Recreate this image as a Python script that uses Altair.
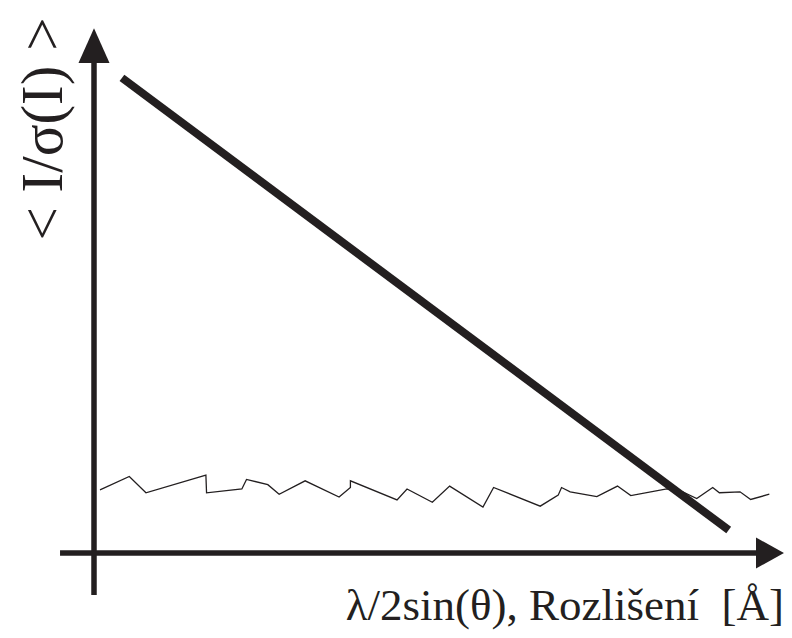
import altair as alt
import pandas as pd

# Thin noisy series: mean I/sigma(I) of noise level vs resolution (arbitrary units)
noise_x = [0.9, 5.3, 7.8, 16.8, 16.9, 22.2, 22.9, 26.1, 27.8, 31.7, 36.8, 38.5, 38.5,
           45.5, 47.0, 50.8, 53.4, 58.4, 60.0, 67.0, 69.7, 70.2, 71.5, 75.5, 78.6,
           80.6, 86.0, 88.4, 90.5, 92.9, 93.9, 97.0, 98.6, 101.4]
noise_y = [13.2, 16.0, 12.6, 16.3, 12.6, 13.4, 15.4, 14.3, 12.3, 15.1, 11.7, 13.7, 15.1,
           11.1, 13.4, 10.6, 14.0, 9.6, 13.7, 9.8, 12.1, 13.7, 12.8, 11.8, 14.0,
           12.0, 13.4, 12.8, 11.4, 13.7, 12.6, 12.8, 11.2, 12.3]

# Thick trend line
trend_x = [4.2, 95.3]
trend_y = [99.4, 4.8]

# Axis lines (with arrows)
yaxis_x = [0, 0]
yaxis_y = [-8.8, 103.0]
xaxis_x = [-5.1, 100.0]
xaxis_y = [0, 0]
yarrow_x = [-2.33, 0, 2.33]
yarrow_y = [102.5, 109.8, 102.5]
yarrow_base = 102.5
xarrow_y = [-3.24, 0, 3.24]
xarrow_x = [99.4, 103.6, 99.4]
xarrow_base = 99.4

x_title = "λ/2sin(θ), Rozlišení\u00a0 [Å]"
y_title = "< I/σ(I) >"

ink = "#231f20"
xs = alt.Scale(domain=[0, 100], range=[86, 752], nice=False, zero=False)
ys = alt.Scale(domain=[0, 100], range=[545, 67], nice=False, zero=False)

noise = pd.DataFrame({"x": noise_x, "y": noise_y, "i": list(range(len(noise_x)))})
trend = pd.DataFrame({"x": trend_x, "y": trend_y})
yax = pd.DataFrame({"x": yaxis_x, "y": yaxis_y, "i": [0, 1]})
xax = pd.DataFrame({"x": xaxis_x, "y": xaxis_y, "i": [0, 1]})
yarr = pd.DataFrame({"x": yarrow_x, "y": yarrow_y, "y2": [yarrow_base] * 3})
xarr = pd.DataFrame({"x": xarrow_x, "y": xarrow_y, "x2": [xarrow_base] * 3})

X = alt.X("x:Q", scale=xs, axis=None)
Y = alt.Y("y:Q", scale=ys, axis=None)

noise_line = alt.Chart(noise).mark_line(color=ink, strokeWidth=1.3).encode(
    x=X, y=Y, order="i:Q")
trend_line = alt.Chart(trend).mark_line(color=ink, strokeWidth=8, strokeCap="butt").encode(
    x=X, y=Y)
yaxis_line = alt.Chart(yax).mark_line(color=ink, strokeWidth=5.5, strokeCap="butt").encode(
    x=X, y=Y, order="i:Q")
xaxis_line = alt.Chart(xax).mark_line(color=ink, strokeWidth=5.5, strokeCap="butt").encode(
    x=X, y=Y, order="i:Q")
yarrow = alt.Chart(yarr).mark_area(color=ink, orient="vertical", opacity=1).encode(
    x=X, y=Y, y2="y2:Q")
xarrow = alt.Chart(xarr).mark_area(color=ink, orient="horizontal", opacity=1).encode(
    y=Y, x=X, x2="x2:Q")

ytitle = alt.Chart(pd.DataFrame({"t": [y_title]})).mark_text(
    angle=270, align="center", baseline="alphabetic", font="Liberation Serif",
    fontSize=59, color=ink).encode(text="t:N", x=alt.value(54), y=alt.value(121))
xtitle = alt.Chart(pd.DataFrame({"t": [x_title]})).mark_text(
    align="right", baseline="alphabetic", font="Liberation Serif",
    fontSize=45, color=ink).encode(text="t:N", x=alt.value(776), y=alt.value(612))

chart = alt.layer(
    noise_line, trend_line, yaxis_line, xaxis_line, yarrow, xarrow, ytitle, xtitle
).properties(
    width=776, height=622, autosize=alt.AutoSizeParams(type="none"), padding=0
).configure_view(stroke=None)

chart.save("out.html", embed_options={"renderer": "svg", "actions": False})
